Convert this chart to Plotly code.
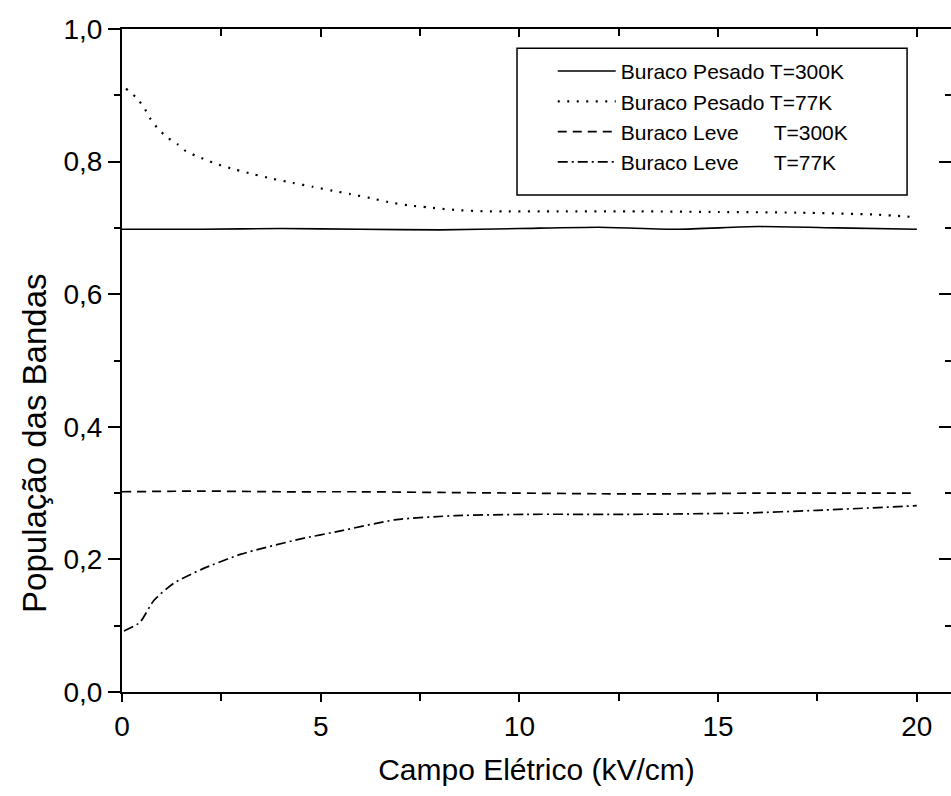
import plotly.graph_objects as go

# ---------------- data ----------------
x_hp300 = [0, 2, 4, 6, 8, 10, 12, 14, 16, 18, 20]
y_hp300 = [0.698, 0.698, 0.699, 0.698, 0.697, 0.699, 0.701, 0.698, 0.702, 0.700, 0.698]

x_hp77 = [0.1, 0.35, 0.55, 0.7, 0.9, 1.15, 1.4, 1.6, 1.85, 2.1, 2.35, 2.85, 3.3, 3.8,
          4.3, 4.8, 5.3, 5.75, 6.25, 6.7, 7.2, 7.7, 8.4, 9.15, 9.6, 11, 13, 15, 17, 19, 20]
y_hp77 = [0.910, 0.897, 0.882, 0.866, 0.850, 0.836, 0.826, 0.816, 0.809, 0.803, 0.797,
          0.788, 0.781, 0.774, 0.768, 0.762, 0.756, 0.751, 0.745, 0.739, 0.734, 0.731,
          0.727, 0.725, 0.725, 0.725, 0.725, 0.724, 0.723, 0.720, 0.716]

x_lh300 = [0, 2, 4, 6, 8, 10, 12, 14, 16, 18, 20]
y_lh300 = [0.302, 0.303, 0.302, 0.302, 0.301, 0.300, 0.299, 0.299, 0.300, 0.300, 0.300]

x_lh77 = [0.05, 0.45, 0.8, 1.3, 2.0, 3.0, 4.5, 5.5, 6.9, 8.4, 10.2, 12.9, 15.7, 17.5, 20]
y_lh77 = [0.092, 0.105, 0.138, 0.164, 0.185, 0.208, 0.231, 0.243, 0.260, 0.266, 0.268,
          0.268, 0.270, 0.274, 0.281]

names = ["Buraco Pesado T=300K",
         "Buraco Pesado T=77K",
         "Buraco Leve\u00a0\u00a0\u00a0\u00a0\u00a0\u00a0T=300K",
         "Buraco Leve\u00a0\u00a0\u00a0\u00a0\u00a0\u00a0T=77K"]

x_ticks = [0, 5, 10, 15, 20]
x_minor = [2.5, 7.5, 12.5, 17.5]
y_ticks = [0.0, 0.2, 0.4, 0.6, 0.8, 1.0]
y_minor = [0.1, 0.3, 0.5, 0.7, 0.9]
y_ticklabels = ["0,0", "0,2", "0,4", "0,6", "0,8", "1,0"]

x_title = "Campo Elétrico (kV/cm)"
y_title = "População das Bandas"

FONT = "Liberation Sans, Arial, sans-serif"

fig = go.Figure()
fig.add_trace(go.Scatter(x=x_hp300, y=y_hp300, mode="lines", name=names[0],
                         line=dict(color="black", width=1.6, shape="spline", smoothing=0.6)))
fig.add_trace(go.Scatter(x=x_hp77, y=y_hp77, mode="lines", name=names[1],
                         line=dict(color="black", width=2.2, dash="2px,7.5px", shape="spline", smoothing=0.6)))
fig.add_trace(go.Scatter(x=x_lh300, y=y_lh300, mode="lines", name=names[2],
                         line=dict(color="black", width=1.7, dash="9px,6px", shape="spline", smoothing=0.6)))
fig.add_trace(go.Scatter(x=x_lh77, y=y_lh77, mode="lines", name=names[3],
                         line=dict(color="black", width=1.7, dash="10px,4px,2px,4px", shape="spline", smoothing=0.6)))

xr = [0, 20.86]
yr = [0, 1.0]

fig.update_layout(
    width=951, height=796,
    margin=dict(l=122, r=0, t=29, b=104),
    paper_bgcolor="white", plot_bgcolor="white",
    font=dict(family=FONT, color="black"),
    showlegend=True,
    legend=dict(x=0.5196, y=0.967, xanchor="left", yanchor="top",
                borderwidth=0, bgcolor="rgba(0,0,0,0)",
                font=dict(family=FONT, size=21, color="black"),
                itemwidth=58, tracegroupgap=0),
    shapes=[dict(type="rect", xref="paper", yref="paper",
                 x0=0.4765, x1=0.947, y0=0.7496, y1=0.971,
                 line=dict(color="black", width=1.5), fillcolor="rgba(0,0,0,0)", layer="above")],
    annotations=[dict(text=y_title, xref="paper", yref="paper", x=-0.105, y=0.3756,
                      xanchor="center", yanchor="middle", textangle=-90, showarrow=False,
                      font=dict(family=FONT, size=33, color="black"))],
    xaxis=dict(range=xr, showline=True, linecolor="black", linewidth=2,
               ticks="outside", ticklen=8, tickwidth=2, tickcolor="black",
               tickvals=x_ticks, showgrid=False, zeroline=False,
               minor=dict(ticks="outside", ticklen=7, tickwidth=1.5, tickcolor="black",
                          tickvals=x_minor),
               tickfont=dict(family=FONT, size=28),
               title=dict(text=x_title, font=dict(family=FONT, size=30), standoff=18)),
    yaxis=dict(range=yr, showline=True, linecolor="black", linewidth=2,
               ticks="outside", ticklen=12, tickwidth=2, tickcolor="black",
               tickvals=y_ticks, ticktext=y_ticklabels, showgrid=False, zeroline=False,
               minor=dict(ticks="outside", ticklen=6, tickwidth=1.5, tickcolor="black",
                          tickvals=y_minor),
               tickfont=dict(family=FONT, size=28)),
    xaxis2=dict(range=xr, overlaying="x", side="top", showline=True, linecolor="black",
                linewidth=2, ticks="inside", ticklen=8, tickwidth=2, tickcolor="black",
                tickvals=x_ticks, showticklabels=False, showgrid=False, zeroline=False,
                minor=dict(ticks="inside", ticklen=7, tickwidth=1.5, tickcolor="black",
                           tickvals=x_minor)),
    yaxis2=dict(range=yr, overlaying="y", side="right", showline=False,
                ticks="inside", ticklen=12, tickwidth=2, tickcolor="black",
                tickvals=y_ticks, showticklabels=False, showgrid=False, zeroline=False,
                minor=dict(ticks="inside", ticklen=6, tickwidth=1.5, tickcolor="black",
                           tickvals=y_minor)),
)

# invisible anchor trace so the secondary (frame) axes are drawn
fig.add_trace(go.Scatter(x=[x_ticks[0]], y=[y_ticks[0]], xaxis="x2", yaxis="y2",
                         mode="markers", marker=dict(opacity=0), showlegend=False,
                         hoverinfo="skip"))

fig.write_html("out.html")
